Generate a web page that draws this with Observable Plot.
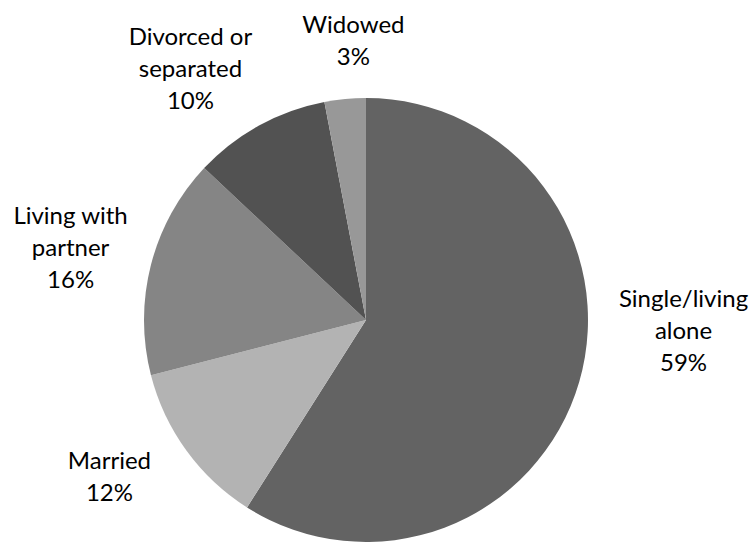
<!DOCTYPE html>
<html>
<head>
<meta charset="utf-8">
<script src="https://cdn.jsdelivr.net/npm/d3@7"></script>
<script src="https://cdn.jsdelivr.net/npm/@observablehq/plot@0.6"></script>
<style>
  html, body { margin: 0; padding: 0; background: #fff; }
  #chart { width: 753px; height: 543px; }
</style>
</head>
<body>
<div id="chart"></div>
<script>
// Data (clockwise from 12 o'clock)
const categories = ["Single/living alone", "Married", "Living with partner", "Divorced or separated", "Widowed"];
const values = [59, 12, 16, 10, 3];
const labelText = ["Single/living\nalone", "Married", "Living with\npartner", "Divorced or\nseparated", "Widowed"];

// Styling / layout (kept separate from data)
const sliceColors = ["#636363", "#b3b3b3", "#858585", "#525252", "#989898"];
const labelX = [1.428, -1.158, -1.333, -0.793, -0.059];
const labelY = [-0.036, -0.694, 0.338, 1.144, 1.270];

const data = categories.map((c, i) => ({category: c, value: values[i]}));
const labels = categories.map((c, i) => ({
  text: `${labelText[i]}\n${values[i]}%`,
  x: labelX[i],
  y: labelY[i]
}));
const colorOf = new Map(categories.map((c, i) => [c, sliceColors[i]]));

const pieMark = (index, scales) => {
  const {x, y} = scales;
  const cx = x(0), cy = y(0), r = x(1) - x(0);
  const arcs = d3.pie().sort(null).value(d => d.value)(data);
  const arc = d3.arc().innerRadius(0).outerRadius(r);
  const g = d3.create("svg:g").attr("transform", `translate(${cx},${cy})`);
  g.selectAll("path")
    .data(arcs)
    .join("path")
    .attr("d", arc)
    .attr("fill", d => colorOf.get(d.data.category));
  return g.node();
};

const chart = Plot.plot({
  width: 753,
  height: 543,
  marginLeft: 144,
  marginRight: 165,
  marginTop: 98,
  marginBottom: 1,
  x: {domain: [-1, 1], axis: null},
  y: {domain: [-1, 1], axis: null},
  style: {background: "#fff", fontFamily: "Lato, 'Open Sans', sans-serif"},
  marks: [
    pieMark,
    Plot.text(labels, {
      x: "x",
      y: "y",
      text: "text",
      fontSize: 24,
      lineHeight: 1.333,
      lineAnchor: "middle",
      textAnchor: "middle",
      fill: "#000"
    })
  ]
});
document.getElementById("chart").appendChild(chart);
</script>
</body>
</html>
